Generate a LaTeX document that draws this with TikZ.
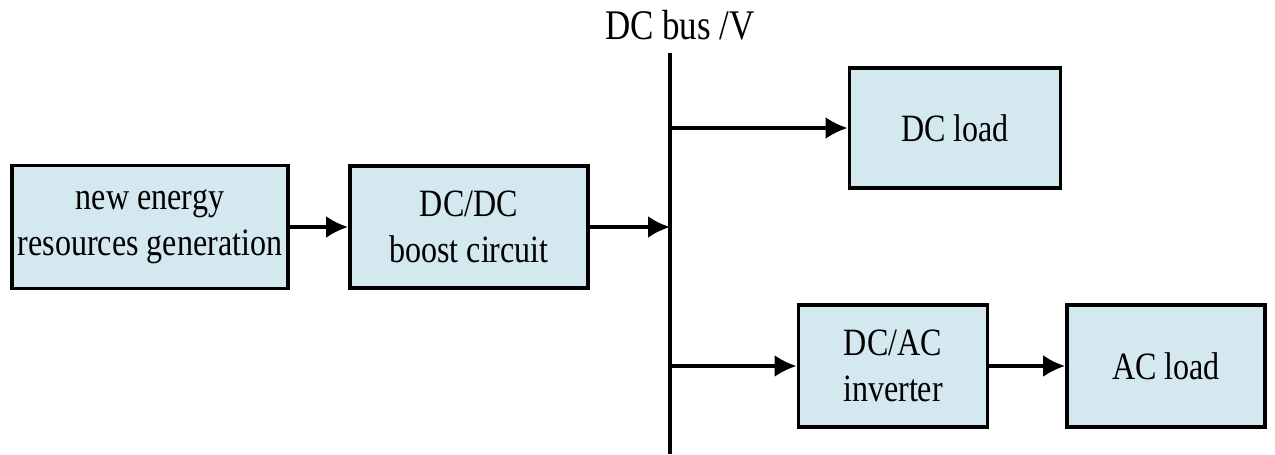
\documentclass[tikz,border=0pt]{standalone}
\usepackage{fontspec}
\setmainfont{Liberation Serif}[FakeStretch=0.83]
\usepackage{tikz}
\usetikzlibrary{arrows.meta}
\definecolor{boxblue}{HTML}{D4E8EF}

\tikzset{
	block/.style={draw, line width=2.2pt, fill=boxblue, align=center, font=\fontsize{22}{26}\selectfont, inner sep=0pt},
	link/.style={line width=2pt, -{Latex[length=0.44cm, width=0.44cm]}}
}

\begin{document}
\begin{tikzpicture}[x=0.02cm, y=-0.02cm]
\useasboundingbox (0,0) rectangle (1275,454);
\node[block, minimum width=5.52cm, minimum height=2.46cm] (gen) at (150,227){new energy\\resources generation};
\node[block, minimum width=4.76cm, minimum height=2.44cm] (boost) at (469,227){DC/DC\\boost circuit};
\node[block, minimum width=4.22cm, minimum height=2.4cm] (dcload) at (955,128){DC load};
\node[block, minimum width=3.78cm, minimum height=2.44cm] (inv) at (893,366){DC/AC\\inverter};
\node[block, minimum width=3.96cm, minimum height=2.44cm] (acload) at (1166,366){AC load};
\coordinate (bustop) at (670,53);
\coordinate (busbot) at (670,454);
\node[font=\fontsize{24}{28}\selectfont] (buslabel) at (680,25){DC bus /V};
\draw[line width=2pt] (bustop) -- (busbot);
\draw[link] (gen) -- (boost);
\draw[link] (boost.east) -- (boost.east -| bustop);
\draw[link] (dcload.west -| bustop) -- (dcload.west);
\draw[link] (inv.west -| bustop) -- (inv.west);
\draw[link] (inv) -- (acload);
\end{tikzpicture}
\end{document}
